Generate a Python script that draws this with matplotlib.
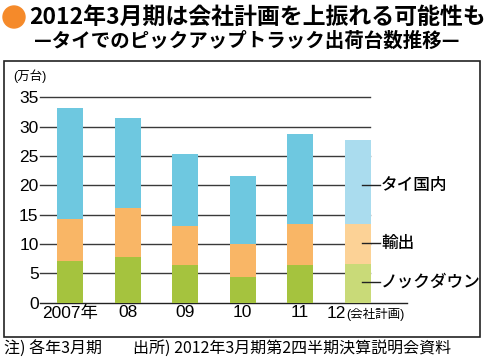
import matplotlib.pyplot as plt
import matplotlib.patches as mpatches
import numpy as np

plt.rcParams['font.family'] = ['Liberation Sans', 'Noto Sans CJK JP', 'DejaVu Sans']

# data (万台), fiscal years ending March
years = ['2007年', '08', '09', '10', '11', '12']
knockdown = [7.1, 7.8, 6.4, 4.3, 6.4, 6.6]
export = [7.2, 8.3, 6.7, 5.7, 7.0, 6.8]
domestic = [18.8, 15.3, 12.3, 11.6, 15.3, 14.3]
yticks = [0, 5, 10, 15, 20, 25, 30, 35]

c_green = ['#a5c33e'] * 5 + ['#c9da78']
c_orange = ['#f9b666'] * 5 + ['#fcd296']
c_blue = ['#6ec8e0'] * 5 + ['#aadcee']

W, H = 490, 358
fig = plt.figure(figsize=(W / 100, H / 100), dpi=100)

# axes: x=0 -> 70px, step 57.5px ; y=0 -> 302.7px, y=35 -> 97.3px
left_px, right_px = 40, 407
x0 = (left_px - 70) / 57.5
x1 = (right_px - 70) / 57.5
ax = fig.add_axes([left_px / W, 1 - 302.7 / H, (right_px - left_px) / W, 205.4 / H])
ax.set_xlim(x0, x1)
ax.set_ylim(0, 35)

x = np.arange(len(years))
kd = np.array(knockdown)
ex = np.array(export)
dm = np.array(domestic)
bw = 26 / 57.5
ax.bar(x, kd, bw, color=c_green, zorder=3)
ax.bar(x, ex, bw, bottom=kd, color=c_orange, zorder=3)
ax.bar(x, dm, bw, bottom=kd + ex, color=c_blue, zorder=3)

grid_end = (370 - 70) / 57.5
for v in yticks[1:]:
    ax.plot([x0, grid_end], [v, v], color='#3a3a3a', lw=1.0, zorder=1, clip_on=False)

for s in ['top', 'right', 'left']:
    ax.spines[s].set_visible(False)
ax.spines['bottom'].set_color('#222222')
ax.spines['bottom'].set_linewidth(1.0)

ax.set_yticks(yticks)
ax.set_yticklabels([str(v) for v in yticks], fontsize=12.5)
ax.tick_params(axis='y', length=0, pad=1)
ax.set_xticks(x[:5])
ax.set_xticklabels(years[:5], fontsize=12.5)
ax.tick_params(axis='x', length=0, pad=2)
ax.text((346 - 70) / 57.5, -0.55, years[5], fontsize=12.5, ha='right', va='top')
ax.text((346 - 70) / 57.5, -0.85, '(会社計画)', fontsize=9, ha='left', va='top')

# series labels
lx0, lx1 = (362 - 70) / 57.5, (380 - 70) / 57.5
for yy, lab in [(20.0, 'タイ国内'), (10.2, '輸出'), (3.6, 'ノックダウン')]:
    ax.plot([lx0, lx1], [yy, yy], color='#222222', lw=1.0, clip_on=False, zorder=4)
    ax.text(lx1 + 0.02, yy, lab, fontsize=12, ha='left', va='center',
            family=['Noto Sans CJK JP'], fontweight='medium')

# unit
fig.text(13 / W, 1 - 76 / H, '(万台)', fontsize=9, ha='left', va='center')

# frame
fig.patches.append(mpatches.Rectangle((4 / W, 1 - 337 / H), 476 / W, 276 / H,
                                      transform=fig.transFigure, fill=False,
                                      edgecolor='#222222', lw=1.2))

# title
fig.patches.append(mpatches.Ellipse((14 / W, 1 - 17 / H), 22 / W, 22 / H,
                                    transform=fig.transFigure, color='#f58a2a'))
fig.text(29 / W, 1 - 17 / H, '2012年3月期は会社計画を上振れる可能性も', fontsize=16.5,
         fontweight='bold', ha='left', va='center', family=['Noto Sans CJK JP'])
fig.text(247 / W, 1 - 41 / H, '—タイでのピックアップトラック出荷台数推移—', fontsize=14,
         fontweight='bold', ha='center', va='center', family=['Noto Sans CJK JP'])

# footer
fig.text(4 / W, 1 - 348 / H, '注) 各年3月期', fontsize=11.5, ha='left', va='center',
         family=['Noto Sans CJK JP'])
fig.text(133 / W, 1 - 348 / H, '出所) 2012年3月期第2四半期決算説明会資料', fontsize=11.5,
         ha='left', va='center', family=['Noto Sans CJK JP'])

fig.savefig('out.png', dpi=100)
